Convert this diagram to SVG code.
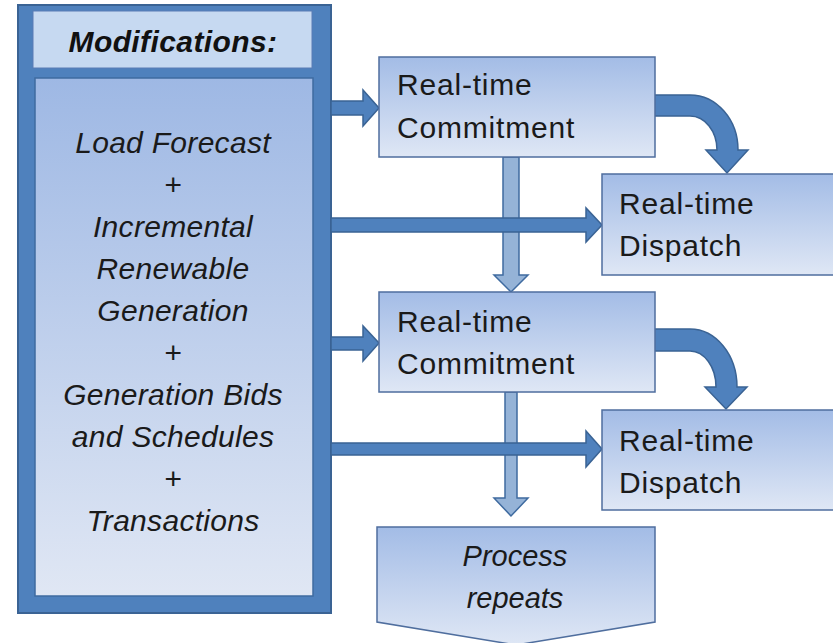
<svg xmlns="http://www.w3.org/2000/svg" width="833" height="643" viewBox="0 0 833 643">
<defs>
<linearGradient id="gBox" x1="0" y1="0" x2="0" y2="1">
<stop offset="0" stop-color="#A3BCE6"/>
<stop offset="1" stop-color="#DFE7F5"/>
</linearGradient>
<linearGradient id="gBody" x1="0" y1="0" x2="0" y2="1">
<stop offset="0" stop-color="#9EB8E4"/>
<stop offset="1" stop-color="#E0E7F4"/>
</linearGradient>
</defs>
<style>
.box{fill:url(#gBox);stroke:#4F6E9E;stroke-width:1.5}
.arr{fill:#4F81BD;stroke:#3A6394;stroke-width:1.5;stroke-linejoin:miter}
.varr{fill:#95B3D7;stroke:#3F6BA0;stroke-width:1.5}
.t{font-family:"Liberation Sans",Arial,sans-serif;font-size:30px;letter-spacing:0.8px;fill:#1A1A1A}
.ti{font-family:"Liberation Sans",Arial,sans-serif;font-size:30px;letter-spacing:0.3px;font-style:italic;fill:#1A1A1A;text-anchor:middle}
.tp{font-family:"Liberation Sans",Arial,sans-serif;font-size:29px;font-style:italic;fill:#1A1A1A;text-anchor:middle}
.th{font-family:"Liberation Sans",Arial,sans-serif;font-size:30px;letter-spacing:0.4px;font-style:italic;font-weight:bold;fill:#111;text-anchor:middle}
</style>
<g id="modifications">
<rect x="18" y="5" width="313" height="608" fill="#4F81BD" stroke="#3A6394" stroke-width="2"/>
<rect x="33" y="11" width="279" height="57" fill="#C6D9F1" stroke="#5A7DB5" stroke-width="1"/>
<rect x="35" y="78" width="278" height="518" fill="url(#gBody)" stroke="#3F6BA0" stroke-width="1.5"/>
<text class="th" x="173" y="52">Modifications:</text>
<text class="ti" x="173" y="153">Load Forecast</text>
<text class="ti" x="173" y="195">+</text>
<text class="ti" x="173" y="237">Incremental</text>
<text class="ti" x="173" y="279">Renewable</text>
<text class="ti" x="173" y="321">Generation</text>
<text class="ti" x="173" y="363">+</text>
<text class="ti" x="173" y="405">Generation Bids</text>
<text class="ti" x="173" y="447">and Schedules</text>
<text class="ti" x="173" y="489">+</text>
<text class="ti" x="173" y="531">Transactions</text>
</g>
<g id="connectors">
<path class="varr" d="M503,157 L519,157 L519,275 L528,275 L511,292 L494,275 L503,275 Z"/>
<path class="varr" d="M505,392 L517,392 L517,498 L528,498 L511,516 L494,498 L505,498 Z"/>
<path class="arr" d="M331,101 L363,101 L363,90 L379,108 L363,126 L363,115 L331,115 Z"/>
<path class="arr" d="M331,218 L586,218 L586,208 L602,225 L586,242 L586,232 L331,232 Z"/>
<path class="arr" d="M331,337 L363,337 L363,326 L379,343 L363,361 L363,350 L331,350 Z"/>
<path class="arr" d="M331,443 L586,443 L586,431 L602,449 L586,467 L586,455 L331,455 Z"/>
<path class="arr" d="M654,95 L690,95 A48,55 0 0 1 738,150 L748,150 L727,173 L706,150 L717,150 A27,34 0 0 0 690,116 L654,116 Z"/>
<path class="arr" d="M654,329 L690,329 A47,58 0 0 1 737,387 L747,387 L726,409 L705,387 L716,387 A26,36 0 0 0 690,351 L654,351 Z"/>
</g>
<g id="commit1">
<rect class="box" x="379" y="57" width="276" height="100"/>
<text class="t" x="397" y="95">Real-time</text>
<text class="t" x="397" y="138">Commitment</text>
</g>
<g id="dispatch1">
<rect class="box" x="602" y="174" width="240" height="101"/>
<text class="t" x="619" y="214">Real-time</text>
<text class="t" x="619" y="256">Dispatch</text>
</g>
<g id="commit2">
<rect class="box" x="379" y="292" width="276" height="100"/>
<text class="t" x="397" y="332">Real-time</text>
<text class="t" x="397" y="374">Commitment</text>
</g>
<g id="dispatch2">
<rect class="box" x="602" y="410" width="240" height="100"/>
<text class="t" x="619" y="451">Real-time</text>
<text class="t" x="619" y="493">Dispatch</text>
</g>
<g id="repeats">
<path class="box" d="M377,527 L655,527 L655,622 L516,645 L377,622 Z"/>
<text class="tp" x="515" y="566">Process</text>
<text class="tp" x="515" y="608">repeats</text>
</g>
</svg>
